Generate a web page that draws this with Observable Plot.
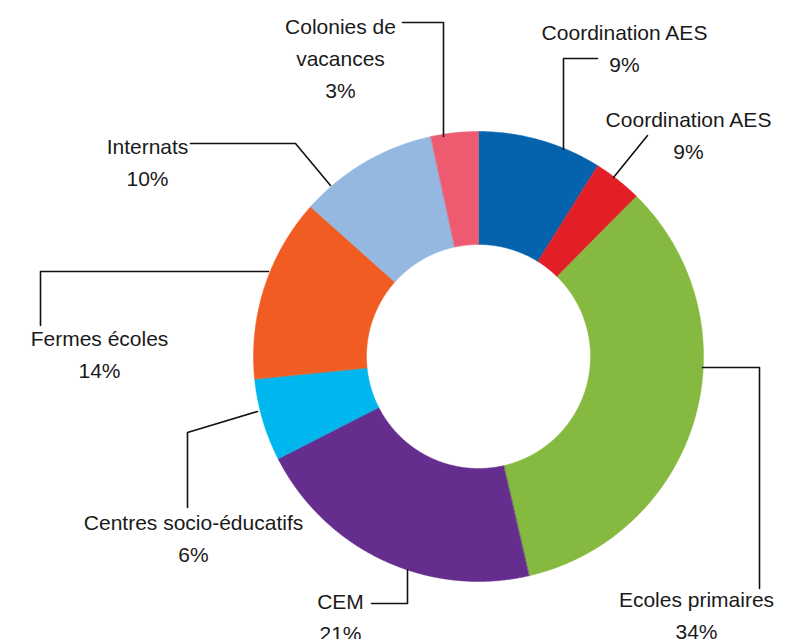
<!DOCTYPE html>
<html>
<head>
<meta charset="utf-8">
<script src="https://cdn.jsdelivr.net/npm/d3@7"></script>
<script src="https://cdn.jsdelivr.net/npm/@observablehq/plot@0.6"></script>
<style>
  html, body { margin: 0; padding: 0; background: #fff; }
  #chart { width: 805px; height: 639px; overflow: hidden; }
</style>
</head>
<body>
<div id="chart"></div>
<script>
// ---- data ----
const categories = ["Coordination AES", "Coordination AES", "Ecoles primaires", "CEM",
  "Centres socio-éducatifs", "Fermes écoles", "Internats", "Colonies de\nvacances"];
const values = [8.9, 3.5, 34.0, 21.1, 5.9, 13.2, 10.0, 3.4];
const percentLabels = ["9%", "9%", "34%", "21%", "6%", "14%", "10%", "3%"];
const colors = ["#0563ae", "#e21f26", "#86b940", "#652d8e", "#00b6ee", "#f15c22", "#94b8e0", "#ee5a6f"];

// ---- layout (pixel positions, separate from data) ----
const W = 805, H = 639;
const cx = 478, cy = 356, rOuter = 225, rInner = 112;
const labelPos = [
  [624, 71], [688, 158], [696, 638], [340, 640],
  [193, 561], [99, 377], [147, 185], [340, 97]
];
const leaders = [
  [[597, 58], [563, 58], [563, 149]],
  [[647, 135], [613, 177]],
  [[702, 367], [759, 367], [759, 588]],
  [[371, 603], [407, 603], [407, 569]],
  [[187, 507], [187, 432], [257, 411]],
  [[40, 325], [40, 271], [268, 271]],
  [[190, 143], [295, 143], [330, 185]],
  [[402, 22], [443, 22], [443, 136]]
];

// ---- build slices from values ----
const pie = d3.pie().sort(null).value(d => d)(values);
function arcPoints(a0, a1) {
  const pts = [];
  const n = Math.max(8, Math.ceil((a1 - a0) / 0.005));
  for (let i = 0; i <= n; i++) {
    const a = a0 + (a1 - a0) * i / n;
    pts.push({x: cx + rOuter * Math.sin(a), y: cy - rOuter * Math.cos(a)});
  }
  for (let i = n; i >= 0; i--) {
    const a = a0 + (a1 - a0) * i / n;
    pts.push({x: cx + rInner * Math.sin(a), y: cy - rInner * Math.cos(a)});
  }
  return pts;
}
const sliceMarks = pie.map((p, i) =>
  Plot.line(arcPoints(p.startAngle, p.endAngle), {
    x: "x", y: "y", fill: colors[i], stroke: colors[i], strokeWidth: 0.5, curve: "linear-closed"
  })
);

const labels = categories.map((c, i) => ({
  text: c + "\n" + percentLabels[i], x: labelPos[i][0], y: labelPos[i][1]
}));
const leaderMarks = leaders.map(pts =>
  Plot.line(pts.map(([x, y]) => ({x, y})), {x: "x", y: "y", stroke: "#111", strokeWidth: 1.6})
);

const chart = Plot.plot({
  width: W, height: H,
  margin: 0,
  x: {domain: [0, W], axis: null},
  y: {domain: [H, 0], axis: null},
  style: {fontFamily: "'Liberation Sans', Arial, sans-serif", background: "#fff"},
  marks: [
    ...sliceMarks,
    ...leaderMarks,
    Plot.text(labels, {
      x: "x", y: "y", text: "text",
      lineAnchor: "bottom", lineHeight: 1.52,
      fontSize: 21, fill: "#1a1a1a", textAnchor: "middle"
    })
  ]
});
document.getElementById("chart").appendChild(chart);
</script>
</body>
</html>
